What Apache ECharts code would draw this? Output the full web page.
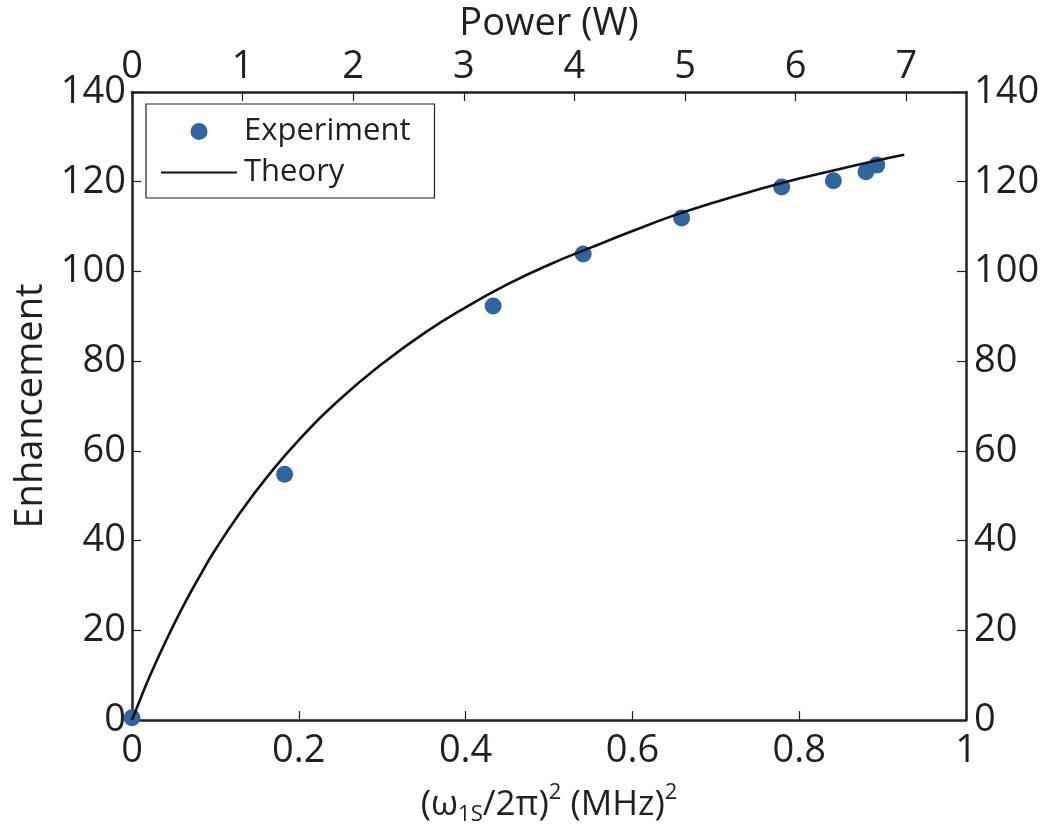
<!DOCTYPE html>
<html>
<head>
<meta charset="utf-8">
<script src="https://cdn.jsdelivr.net/npm/echarts@6/dist/echarts.min.js"></script>
<style>html,body{margin:0;padding:0;background:#fff}#c{width:1050px;height:832px}</style>
</head>
<body>
<div id="c"></div>
<script>
// Experiment points: x = (omega_1S/2pi)^2 in MHz^2, y = enhancement
const expX = [0, 0.183, 0.433, 0.541, 0.659, 0.779, 0.841, 0.880, 0.893];
const expY = [0.5, 54.8, 92.3, 103.9, 111.9, 118.8, 120.2, 122.2, 123.7];
// Theory curve
const theoryX = [0, 0.01, 0.02, 0.04, 0.06, 0.08, 0.10, 0.13, 0.16, 0.20, 0.25, 0.30, 0.35, 0.40, 0.45, 0.50, 0.55, 0.60, 0.65, 0.70, 0.75, 0.80, 0.85, 0.90, 0.926];
const theoryY = [0, 4.7, 9.2, 17.4, 24.9, 31.7, 38.0, 46.3, 53.7, 62.4, 71.6, 79.4, 86.2, 92.0, 97.1, 101.5, 105.3, 109.0, 112.5, 115.5, 118.2, 120.7, 122.9, 125.0, 126.0];
const bottomTicks = [0, 0.2, 0.4, 0.6, 0.8, 1];
const powerTicks = [0, 1, 2, 3, 4, 5, 6, 7];
const yTicks = [0, 20, 40, 60, 80, 100, 120, 140];

const FONT = 'Open Sans';
const TXT = '#231f20';
const axisLine = {show: true, onZero: false, lineStyle: {color: '#231f20', width: 2.5}};
const tickStyle = {show: true, inside: true, length: 9, lineStyle: {color: '#231f20', width: 1.2}};
const labelBase = {color: TXT, fontFamily: FONT, fontSize: 38};

const chart = echarts.init(document.getElementById('c'), null, {renderer: 'canvas'});
chart.setOption({
  animation: false,
  backgroundColor: '#fff',
  grid: {left: 132, right: 84, top: 92, bottom: 112, containLabel: false, outerBoundsMode: 'none'},
  legend: {
    orient: 'vertical', left: 146, top: 104,
    backgroundColor: '#fff', borderColor: '#231f20', borderWidth: 1.2,
    padding: [12, 24, 10, 14],
    itemWidth: 76, itemHeight: 17, itemGap: 10,
    textStyle: {color: TXT, fontFamily: FONT, fontSize: 31, padding: [0, 0, 0, 2]},
    data: [
      {name: 'Experiment'},
      {name: 'Theory', itemStyle: {opacity: 0}}
    ]
  },
  xAxis: [
    {
      type: 'value', position: 'bottom', min: 0, max: 1, interval: 0.2,
      axisLine: axisLine, axisTick: tickStyle, splitLine: {show: false},
      axisLabel: Object.assign({}, labelBase, {margin: 12,
        formatter: v => bottomTicks.some(t => Math.abs(t - v) < 1e-9) ? String(+v.toFixed(1)) : ''}),
      name: '{t|(ω}{sub|1S}{t|/2π)}{sup|2}{t| (MHz)}{sup|2}',
      nameLocation: 'middle', nameGap: 62,
      nameTextStyle: {
        rich: {
          t: {fontFamily: FONT, fontSize: 35, color: TXT},
          sub: {fontFamily: FONT, fontSize: 22, color: TXT, padding: [20, 0, 0, 0]},
          sup: {fontFamily: FONT, fontSize: 22, color: TXT, padding: [0, 0, 24, 0]}
        }
      }
    },
    {
      type: 'value', position: 'top', min: 0, max: 7.54, interval: 1,
      axisLine: axisLine, axisTick: tickStyle, splitLine: {show: false},
      axisLabel: Object.assign({}, labelBase, {margin: 6, showMaxLabel: false,
        formatter: v => powerTicks.indexOf(v) >= 0 ? String(v) : ''}),
      name: 'Power (W)', nameLocation: 'middle', nameGap: 44,
      nameTextStyle: {fontFamily: FONT, fontSize: 38, color: TXT}
    }
  ],
  yAxis: [
    {
      type: 'value', position: 'left', min: 0, max: 140, interval: 20,
      axisLine: axisLine, axisTick: tickStyle, splitLine: {show: false},
      axisLabel: Object.assign({}, labelBase, {margin: 6,
        formatter: v => yTicks.indexOf(v) >= 0 ? String(v) : ''}),
      name: 'Enhancement', nameLocation: 'middle', nameGap: 78,
      nameTextStyle: {fontFamily: FONT, fontSize: 38, color: TXT}
    },
    {
      type: 'value', position: 'right', min: 0, max: 140, interval: 20,
      axisLine: axisLine, axisTick: tickStyle, splitLine: {show: false},
      axisLabel: Object.assign({}, labelBase, {margin: 8,
        formatter: v => yTicks.indexOf(v) >= 0 ? String(v) : ''})
    }
  ],
  series: [
    {
      name: 'Theory', type: 'line', xAxisIndex: 0, yAxisIndex: 0,
      data: theoryX.map((x, i) => [x, theoryY[i]]),
      smooth: true, symbol: 'none', z: 3,
      lineStyle: {color: '#111', width: 2.6},
      itemStyle: {color: '#111'}
    },
    {
      name: 'Experiment', type: 'scatter', xAxisIndex: 0, yAxisIndex: 0,
      data: expX.map((x, i) => [x, expY[i]]),
      symbol: 'circle', symbolSize: 17, z: 2,
      itemStyle: {color: '#31659f', opacity: 1}
    }
  ]
});
</script>
</body>
</html>
